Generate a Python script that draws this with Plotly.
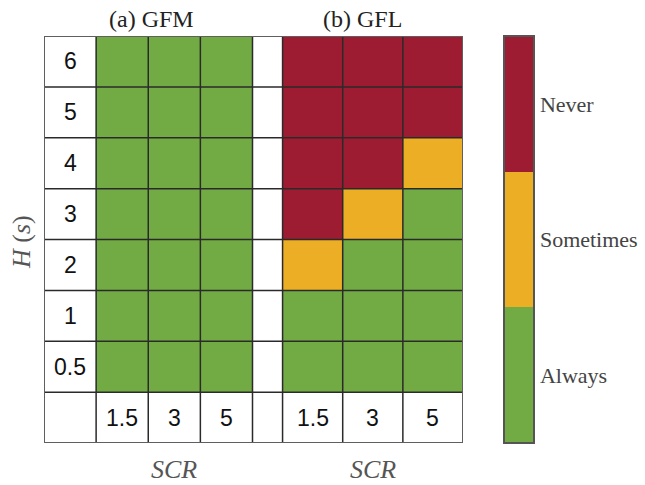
import numpy as np
import plotly.graph_objects as go

# ---- data ----
H_LABELS = ["6", "5", "4", "3", "2", "1", "0.5"]
SCR_LABELS = ["1.5", "3", "5"]
STATUS_NAMES = ["Always", "Sometimes", "Never"]  # codes 0, 1, 2

# stability status per (H row, SCR column); rows from H=6 down to H=0.5
GFM_STATUS = [
    [0, 0, 0],
    [0, 0, 0],
    [0, 0, 0],
    [0, 0, 0],
    [0, 0, 0],
    [0, 0, 0],
    [0, 0, 0],
]
GFL_STATUS = [
    [2, 2, 2],
    [2, 2, 2],
    [2, 2, 1],
    [2, 1, 0],
    [1, 0, 0],
    [0, 0, 0],
    [0, 0, 0],
]

# ---- table geometry (column widths: label, 3 x GFM, spacer, 3 x GFL) ----
COL_W = [52, 52, 52, 52, 30, 60, 60, 60]
x_edges = np.concatenate([[0], np.cumsum(COL_W)])
n_rows = len(H_LABELS) + 1
y_edges = np.arange(n_rows + 1)

PLOT_L, PLOT_W = 44, 419

GREEN = "#72aa43"
ORANGE = "#ebae24"
RED = "#9e1c31"
SERIF = "Liberation Serif"
SANS = "Liberation Sans"

nan = np.nan
z = []
for i in range(len(H_LABELS)):
    z.append([nan] + GFM_STATUS[i] + [nan] + GFL_STATUS[i])
z.append([nan] * len(COL_W))

colorscale = [
    [0.0, GREEN], [1 / 3, GREEN],
    [1 / 3, ORANGE], [2 / 3, ORANGE],
    [2 / 3, RED], [1.0, RED],
]

fig = go.Figure()
fig.add_trace(go.Heatmap(
    x=x_edges, y=y_edges, z=z,
    zmin=-0.5, zmax=2.5, colorscale=colorscale,
    hoverinfo="skip",
    colorbar=dict(
        x=(503.5 - PLOT_L) / PLOT_W, xanchor="left",
        y=0.5, yanchor="middle",
        lenmode="fraction", len=1.0,
        thicknessmode="pixels", thickness=30,
        xpad=0, ypad=0,
        outlinewidth=2, outlinecolor="#555555",
        tickvals=[0, 1, 2], ticktext=STATUS_NAMES,
        ticks="",
        tickfont=dict(family=SERIF, size=22, color="#444444"),
    ),
))

shapes = []
for xe in x_edges[1:-1]:
    shapes.append(dict(type="line", xref="x", yref="y", x0=xe, x1=xe,
                       y0=y_edges[0], y1=y_edges[-1],
                       line=dict(color="#2a2a2a", width=1.5), layer="above"))
for ye in y_edges[1:-1]:
    shapes.append(dict(type="line", xref="x", yref="y", x0=x_edges[0], x1=x_edges[-1],
                       y0=ye, y1=ye,
                       line=dict(color="#2a2a2a", width=1.5), layer="above"))
shapes.append(dict(type="rect", xref="x", yref="y", x0=x_edges[0], x1=x_edges[-1],
                   y0=y_edges[0], y1=y_edges[-1],
                   line=dict(color="#5f5f5f", width=2), layer="above"))

annotations = []
# H values in the first column
for i, lab in enumerate(H_LABELS):
    annotations.append(dict(x=(x_edges[0] + x_edges[1]) / 2, y=i + 0.5, text=lab,
                            showarrow=False, font=dict(family=SANS, size=23, color="#111111")))
# SCR values in the last row, under both panels
for start in (1, 5):
    for j, lab in enumerate(SCR_LABELS):
        annotations.append(dict(x=(x_edges[start + j] + x_edges[start + j + 1]) / 2,
                                y=n_rows - 0.5, text=lab, showarrow=False,
                                font=dict(family=SANS, size=23, color="#111111")))

# panel titles
annotations.append(dict(x=107, xref="x", y=(443 - 19) / 407, yref="paper",
                        text="(a) GFM", showarrow=False, yanchor="middle",
                        font=dict(family=SERIF, size=24, color="#222222")))
annotations.append(dict(x=318, xref="x", y=(443 - 19) / 407, yref="paper",
                        text="(b) GFL", showarrow=False, yanchor="middle",
                        font=dict(family=SERIF, size=24, color="#222222")))
# axis names
for start in (1, 5):
    annotations.append(dict(x=(x_edges[start] + x_edges[start + 3]) / 2, xref="x",
                            y=(443 - 469) / 407, yref="paper",
                            text="<i>SCR</i>", showarrow=False, yanchor="middle",
                            font=dict(family=SERIF, size=26, color="#555555")))
annotations.append(dict(x=(21 - PLOT_L) / PLOT_W, xref="paper", y=(443 - 242) / 407, yref="paper",
                        text="<i>H</i> (<i>s</i>)", showarrow=False, textangle=-90,
                        xanchor="center", yanchor="middle",
                        font=dict(family=SERIF, size=26, color="#555555")))

fig.update_layout(
    width=645, height=485,
    margin=dict(l=PLOT_L, r=645 - PLOT_L - PLOT_W, t=36, b=42),
    paper_bgcolor="white", plot_bgcolor="white",
    xaxis=dict(range=[x_edges[0], x_edges[-1]], visible=False, fixedrange=True),
    yaxis=dict(range=[y_edges[-1], y_edges[0]], visible=False, fixedrange=True),
    shapes=shapes, annotations=annotations,
    showlegend=False,
)

fig.write_html("out.html")
